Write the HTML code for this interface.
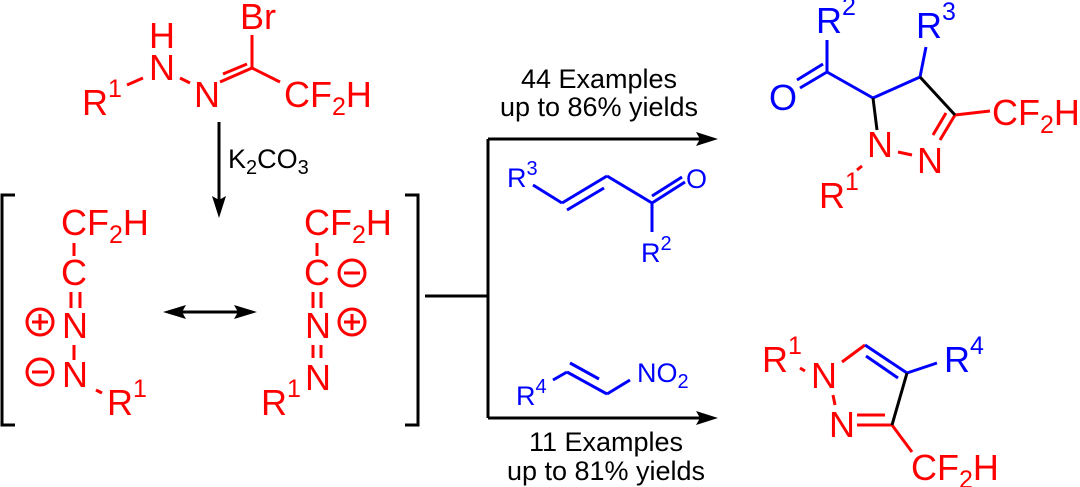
<!DOCTYPE html>
<html><head><meta charset="utf-8"><style>
html,body{margin:0;padding:0;background:#fff;}
svg{display:block;}
text{font-family:"Liberation Sans",Arial,sans-serif;}
.r{fill:#f00;} .b{fill:#00f;} .k{fill:#000;}
.a{font-size:36px;} .s{font-size:25px;} .t{font-size:27px;}
</style></head><body>
<svg width="1080" height="487" viewBox="0 0 1080 487" xmlns="http://www.w3.org/2000/svg">
<g stroke-width="3" fill="none" stroke-linecap="butt">
<g stroke="#f00">
<line x1="127" y1="85" x2="143" y2="78"/><line x1="180" y1="78" x2="190" y2="83"/>
<line x1="220" y1="82" x2="252" y2="68"/><line x1="223" y1="74" x2="247" y2="64"/>
<line x1="252" y1="68" x2="252" y2="35"/><line x1="252" y1="68" x2="280" y2="82"/>
<line x1="74" y1="243" x2="74" y2="256"/>
<line x1="71" y1="292" x2="71" y2="308"/><line x1="80" y1="292" x2="80" y2="308"/>
<line x1="74" y1="345" x2="74" y2="360"/><line x1="96" y1="390" x2="102" y2="393"/>
<circle cx="40" cy="322" r="13"/><line x1="32" y1="322" x2="48" y2="322"/><line x1="40" y1="314" x2="40" y2="330"/>
<circle cx="40" cy="372" r="13"/><line x1="32" y1="372" x2="48" y2="372"/>
<line x1="317" y1="243" x2="317" y2="256"/>
<line x1="313" y1="292" x2="313" y2="308"/><line x1="321" y1="292" x2="321" y2="308"/>
<line x1="313" y1="345" x2="313" y2="358"/><line x1="321" y1="345" x2="321" y2="358"/>
<circle cx="352" cy="273" r="13"/><line x1="344" y1="273" x2="360" y2="273"/>
<circle cx="352" cy="322" r="13"/><line x1="344" y1="322" x2="360" y2="322"/><line x1="352" y1="314" x2="352" y2="330"/>
<line x1="955" y1="115" x2="940" y2="140"/><line x1="946" y1="113" x2="933" y2="135"/>
<line x1="955" y1="115" x2="990" y2="111"/><line x1="898" y1="152" x2="912" y2="155"/>
<line x1="857" y1="170" x2="862" y2="166"/>
<line x1="842" y1="362" x2="865" y2="345"/>
<line x1="857" y1="415" x2="885" y2="415"/><line x1="857" y1="425" x2="892" y2="425"/>
<line x1="833" y1="395" x2="835" y2="405"/><line x1="892" y1="425" x2="912" y2="452"/>
<line x1="800" y1="368" x2="805" y2="371"/>
</g>
<g stroke="#00f">
<line x1="533" y1="185" x2="562" y2="203"/><line x1="562" y1="203" x2="607" y2="176"/>
<line x1="567" y1="210" x2="604" y2="188"/>
<line x1="607" y1="176" x2="652" y2="203"/><line x1="652" y1="203" x2="685" y2="182"/>
<line x1="652" y1="196" x2="682" y2="177"/><line x1="652" y1="203" x2="652" y2="232"/>
<line x1="553" y1="380" x2="567" y2="372"/><line x1="567" y1="372" x2="607" y2="394"/>
<line x1="570" y1="363" x2="599" y2="379"/><line x1="607" y1="394" x2="630" y2="380"/>
<line x1="827" y1="40" x2="827" y2="72"/><line x1="827" y1="72" x2="800" y2="88"/>
<line x1="823" y1="64" x2="797" y2="80"/>
<line x1="827" y1="72" x2="873" y2="98"/><line x1="873" y1="98" x2="920" y2="77"/>
<line x1="920" y1="77" x2="926" y2="47"/>
<line x1="865" y1="345" x2="907" y2="373"/><line x1="866" y1="356" x2="898" y2="378"/>
<line x1="907" y1="373" x2="937" y2="363"/>
</g>
<g stroke="#000">
<line x1="920" y1="77" x2="955" y2="115"/><line x1="873" y1="98" x2="877" y2="130"/>
<line x1="907" y1="373" x2="892" y2="425"/>
<line x1="219" y1="122" x2="219" y2="200"/>
<line x1="178" y1="312" x2="242" y2="312"/>
<polyline points="15,195 2,195 2,425 15,425"/>
<polyline points="405,195 418,195 418,425 405,425"/>
<line x1="425" y1="296" x2="488" y2="296"/>
<line x1="488" y1="139" x2="488" y2="418"/>
<line x1="488" y1="139" x2="705" y2="139"/>
<line x1="488" y1="418" x2="705" y2="418"/>
</g>
</g>
<g class="k" stroke="none">
<polygon points="219,218 212,196 219,200 226,196"/>
<polygon points="163,312 186,305 182,312 186,319"/>
<polygon points="257,312 234,305 238,312 234,319"/>
<polygon points="718,139 696,132 700,139 696,146"/>
<polygon points="718,418 696,411 700,418 696,425"/>
</g>
<g class="r a">
<text x="240" y="29">Br</text>
<text x="149" y="48">H</text>
<text x="149" y="80">N</text>
<text x="82" y="115">R<tspan class="s" dy="-18">1</tspan></text>
<text x="194" y="107">N</text>
<text x="284" y="107">CF<tspan class="s" dy="8">2</tspan><tspan dy="-8">H</tspan></text>
<text x="61" y="235">CF<tspan class="s" dy="8">2</tspan><tspan dy="-8">H</tspan></text>
<text x="61" y="285">C</text>
<text x="62" y="338">N</text>
<text x="62" y="387">N</text>
<text x="107" y="415">R<tspan class="s" dy="-18">1</tspan></text>
<text x="304" y="235">CF<tspan class="s" dy="8">2</tspan><tspan dy="-8">H</tspan></text>
<text x="304" y="285">C</text>
<text x="305" y="338">N</text>
<text x="305" y="390">N</text>
<text x="261" y="415">R<tspan class="s" dy="-18">1</tspan></text>
<text x="867" y="157">N</text>
<text x="917" y="173">N</text>
<text x="992" y="125">CF<tspan class="s" dy="8">2</tspan><tspan dy="-8">H</tspan></text>
<text x="819" y="208">R<tspan class="s" dy="-18">1</tspan></text>
<text x="762" y="372">R<tspan class="s" dy="-18">1</tspan></text>
<text x="811" y="388">N</text>
<text x="829" y="437">N</text>
<text x="911" y="480">CF<tspan class="s" dy="8">2</tspan><tspan dy="-8">H</tspan></text>
</g>
<g class="b a">
<text x="816" y="33">R<tspan class="s" dy="-18">2</tspan></text>
<text x="916" y="38">R<tspan class="s" dy="-18">3</tspan></text>
<text x="769" y="110">O</text>
<text x="944" y="372">R<tspan class="s" dy="-18">4</tspan></text>
</g>
<g class="b" style="font-size:27px">
<text x="507" y="187">R<tspan style="font-size:20px" dy="-12">3</tspan></text>
<text x="686" y="188">O</text>
<text x="641" y="262">R<tspan style="font-size:20px" dy="-12">2</tspan></text>
<text x="516" y="405">R<tspan style="font-size:20px" dy="-12">4</tspan></text>
<text x="637" y="382">NO<tspan style="font-size:20px" dy="6">2</tspan></text>
</g>
<g class="k t">
<text x="228" y="168">K<tspan style="font-size:20px" dy="6">2</tspan><tspan dy="-6">CO</tspan><tspan style="font-size:20px" dy="6">3</tspan></text>
<text x="599" y="88" text-anchor="middle">44 Examples</text>
<text x="599" y="116" text-anchor="middle">up to 86% yields</text>
<text x="606" y="451" text-anchor="middle">11 Examples</text>
<text x="606" y="480" text-anchor="middle">up to 81% yields</text>
</g>
</svg>
</body></html>
